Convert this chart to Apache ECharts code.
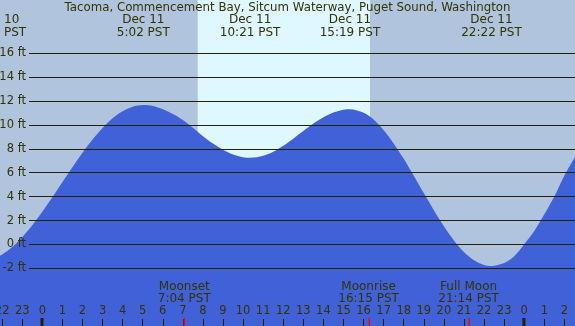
<!DOCTYPE html>
<html>
<head>
<meta charset="utf-8">
<script src="https://cdn.jsdelivr.net/npm/echarts@6/dist/echarts.min.js"></script>
<style>
html,body{margin:0;padding:0;background:#b0c4de;}
#container{width:575px;height:326px;}
</style>
</head>
<body>
<div id="container"></div>
<script>
var title = 'Tacoma, Commencement Bay, Sitcum Waterway, Puget Sound, Washington'

// hours since midnight Dec 11, tide height in ft
var tideHours = [-3, -2.5, -2, -1.5, -1, -0.5, 0, 0.5, 1, 1.5, 2, 2.5, 3, 3.5, 4, 4.5, 5.03,
    5.5, 6, 6.5, 7, 7.5, 8, 8.5, 9, 9.5, 10, 10.35,
    11, 11.5, 12, 12.5, 13, 13.5, 14, 14.5, 15, 15.32,
    16, 16.5, 17, 17.5, 18, 18.5, 19, 19.5, 20, 20.5, 21, 21.5, 22, 22.37,
    23, 23.5, 24, 24.5, 25, 25.5, 26, 26.5, 27]
var tideFeet = [-1.44, -1.27, -0.87, -0.24, 0.59, 1.58, 2.71, 3.93, 5.19, 6.44, 7.65, 8.76, 9.73, 10.54, 11.13, 11.51, 11.65,
    11.57, 11.3, 10.9, 10.4, 9.75, 9.05, 8.43, 7.91, 7.51, 7.29, 7.24,
    7.41, 7.75, 8.25, 8.84, 9.48, 10.1, 10.63, 11.03, 11.26, 11.3,
    11.0, 10.45, 9.55, 8.44, 7.15, 5.74, 4.28, 2.84, 1.5, 0.32, -0.65, -1.34, -1.74, -1.83,
    -1.58, -1.0, 0.0, 1.1, 2.5, 4.0, 5.75, 7.2, 8.5]

var eventHours = [5.03, 10.35, 15.32, 22.37]
var eventDates = ['Dec 11', 'Dec 11', 'Dec 11', 'Dec 11']
var eventTimes = ['5:02 PST', '10:21 PST', '15:19 PST', '22:22 PST']

var moonHours = [7.07, 16.25, 21.23]
var moonNames = ['Moonset', 'Moonrise', 'Full Moon']
var moonTimes = ['7:04 PST', '16:15 PST', '21:14 PST']

var midnightHours = [0, 24]
var daylight = [7.74, 16.32]

var ftTicks = [-2, 16]

var textColor = '#333300'
var font = 'DejaVu Sans'

var tideData = []
for(let i = 0; i < tideHours.length; i++){
    tideData.push([tideHours[i], tideFeet[i]])
}
var eventData = []
for(let i = 0; i < eventHours.length; i++){
    eventData.push([eventHours[i], 0, eventDates[i] + '\n' + eventTimes[i]])
}
var moonData = []
for(let i = 0; i < moonHours.length; i++){
    moonData.push([moonHours[i], 0, moonNames[i] + '\n' + moonTimes[i]])
}

var myChart = echarts.init(document.getElementById('container'))

var option = {
    animation: false,
    backgroundColor: '#b0c4de',
    title: {
        text: title,
        left: 'center',
        top: 2,
        padding: 0,
        textStyle: {fontFamily: font, fontSize: 11.8, fontWeight: 'normal', color: textColor}
    },
    graphic: [{
        type: 'text',
        left: 4,
        top: 13,
        style: {text: '10\nPST', fontFamily: font, fontSize: 12, lineHeight: 13, fill: textColor}
    }],
    grid: [
        {left: -17.94, width: 602.4, top: 0, height: 326, outerBoundsMode: 'none'},
        {left: 29, right: 0, top: 53.3, height: 215, outerBoundsMode: 'none'}
    ],
    xAxis: [{
        type: 'value',
        gridIndex: 0,
        min: -3,
        max: 27,
        interval: 1,
        z: 5,
        splitLine: {show: false},
        axisLine: {show: false, onZero: false},
        axisTick: {show: true, inside: true, length: 7, lineStyle: {color: '#222200'}},
        axisLabel: {
            inside: true,
            margin: 9,
            fontFamily: font,
            fontSize: 11.5,
            color: textColor,
            showMinLabel: true,
            showMaxLabel: true,
            formatter: function(v){ return String(((v % 24) + 24) % 24) }
        }
    }, {
        type: 'value',
        gridIndex: 1,
        show: false,
        min: 0,
        max: 1
    }],
    yAxis: [{
        type: 'value',
        gridIndex: 0,
        show: false,
        min: -6.85,
        max: 20.45
    }, {
        type: 'value',
        gridIndex: 1,
        min: ftTicks[0],
        max: ftTicks[1],
        interval: 2,
        z: 5,
        axisLine: {show: false},
        axisTick: {show: false},
        splitLine: {show: true, lineStyle: {color: '#222200', width: 1}},
        axisLabel: {
            margin: 3,
            fontFamily: font,
            fontSize: 11.5,
            color: textColor,
            formatter: '{value} ft'
        }
    }],
    series: [{
        type: 'custom',
        xAxisIndex: 0,
        yAxisIndex: 0,
        z: 1,
        data: [[daylight[0], daylight[1]]],
        renderItem: function(params, api){
            var a = api.coord([api.value(0), 20.45])
            var b = api.coord([api.value(1), -6.85])
            return {type: 'rect', shape: {x: a[0], y: a[1], width: b[0] - a[0], height: b[1] - a[1]}, style: {fill: '#dff7ff'}}
        }
    }, {
        type: 'line',
        xAxisIndex: 0,
        yAxisIndex: 0,
        z: 2,
        data: tideData,
        smooth: 0.3,
        showSymbol: false,
        lineStyle: {width: 0},
        areaStyle: {color: '#4161d8', opacity: 1, origin: 'start'}
    }, {
        type: 'custom',
        xAxisIndex: 0,
        yAxisIndex: 0,
        z: 6,
        data: midnightHours.map(function(h){ return [h, 0] }),
        renderItem: function(params, api){
            var p = api.coord([api.value(0), 0])
            return {type: 'rect', shape: {x: p[0] - 1.8, y: 318, width: 3, height: 8}, style: {fill: '#222200'}}
        }
    }, {
        type: 'custom',
        xAxisIndex: 0,
        yAxisIndex: 0,
        z: 6,
        data: moonHours.map(function(h){ return [h, 0] }),
        renderItem: function(params, api){
            var p = api.coord([api.value(0), 0])
            return {type: 'rect', shape: {x: Math.round(p[0]) - 0.5, y: 318, width: 1.5, height: 8}, style: {fill: '#ff0000'}}
        }
    }, {
        type: 'custom',
        xAxisIndex: 0,
        yAxisIndex: 0,
        z: 6,
        data: eventData,
        renderItem: function(params, api){
            var p = api.coord([api.value(0), 0])
            return {type: 'text', x: p[0], y: 13, style: {
                text: eventData[params.dataIndex][2], align: 'center', verticalAlign: 'top',
                fontFamily: font, fontSize: 12, lineHeight: 13, fill: textColor
            }}
        }
    }, {
        type: 'custom',
        xAxisIndex: 0,
        yAxisIndex: 0,
        z: 6,
        data: moonData,
        renderItem: function(params, api){
            var p = api.coord([api.value(0), 0])
            return {type: 'text', x: p[0], y: 281.3, style: {
                text: moonData[params.dataIndex][2], align: 'center', verticalAlign: 'top',
                fontFamily: font, fontSize: 12, lineHeight: 12, fill: textColor
            }}
        }
    }]
}

myChart.setOption(option, true)
</script>
</body>
</html>
